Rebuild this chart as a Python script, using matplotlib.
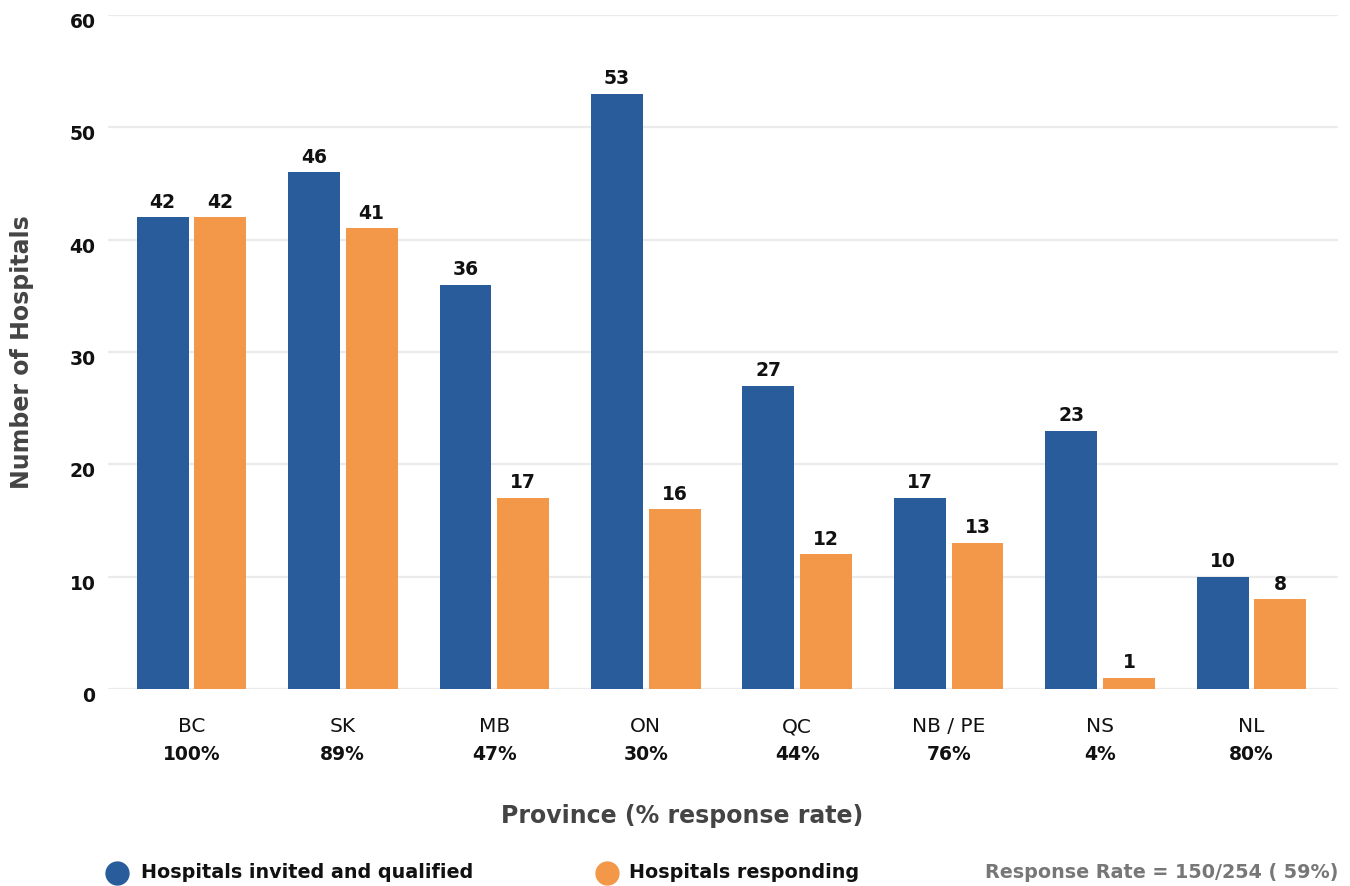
import matplotlib
matplotlib.use("Agg")
import matplotlib.pyplot as plt
import numpy as np
from matplotlib.lines import Line2D
from matplotlib.transforms import blended_transform_factory, ScaledTranslation

provinces = ["BC", "SK", "MB", "ON", "QC", "NB / PE", "NS", "NL"]
rates = ["100%", "89%", "47%", "30%", "44%", "76%", "4%", "80%"]
invited = [42, 46, 36, 53, 27, 17, 23, 10]
responding = [42, 41, 17, 16, 12, 13, 1, 8]
series_names = ["Hospitals invited and qualified", "Hospitals responding"]
yticks = [0, 10, 20, 30, 40, 50, 60]
summary = "Response Rate = 150/254 ( 59%)"

BLUE = "#285C9B"
ORANGE = "#F39849"
plt.rcParams['font.family'] = ['DejaVu Sans']

fig = plt.figure(figsize=(13.5, 8.86), dpi=100)
W, H = 1350, 886
ax = fig.add_axes([108 / W, 1 - 689 / H, (1338 - 108) / W, (689 - 15) / H])

x = np.arange(len(provinces))
bw = 0.343
off = 0.19
b1 = ax.bar(x - off, invited, bw, color=BLUE, zorder=3)
b2 = ax.bar(x + off, responding, bw, color=ORANGE, zorder=3)
for bars in (b1, b2):
    ax.bar_label(bars, padding=4, fontsize=13.5, fontweight='bold', color='#111111')

ax.set_xlim(-0.55, 7.57)
ax.set_ylim(0, 60)
ax.set_yticks(yticks)
ax.set_yticklabels([str(t) for t in yticks], fontsize=13.5, fontweight='bold', color='#111111')
ax.tick_params(axis='y', length=0, pad=9)
for lab in ax.get_yticklabels():
    lab.set_transform(lab.get_transform() + ScaledTranslation(0, -4 / 72, fig.dpi_scale_trans))
ax.tick_params(axis='x', length=0)
ax.set_xticks([])
ax.grid(axis='y', color='#ebebeb', linewidth=1.6, zorder=0)
for s in ax.spines.values():
    s.set_visible(False)

tr = blended_transform_factory(ax.transData, fig.transFigure)
for i, (p, r) in enumerate(zip(provinces, rates)):
    ax.text(i, 1 - 727 / H, p, transform=tr, ha='center', va='center', fontsize=14.5, color='#111111')
    ax.text(i, 1 - 754 / H, r, transform=tr, ha='center', va='center', fontsize=13.5, fontweight='bold', color='#111111')

fig.text(682 / W, 1 - 816 / H, "Province (% response rate)", ha='center', va='center',
         fontsize=17, fontweight='bold', color='#444444')
fig.text(22 / W, 1 - 352 / H, "Number of Hospitals", ha='center', va='center', rotation=90,
         fontsize=17, fontweight='bold', color='#444444')

# legend
ly = 1 - 873 / H
for cx, tx, col, name in [(117, 141, BLUE, series_names[0]), (607, 629, ORANGE, series_names[1])]:
    fig.add_artist(Line2D([cx / W], [ly], marker='o', markersize=16.5, color=col, linestyle='None',
                          transform=fig.transFigure))
    fig.text(tx / W, ly, name, ha='left', va='center', fontsize=13.8, fontweight='bold', color='#111111')
fig.text(1338 / W, ly, summary, ha='right', va='center', fontsize=13.8, fontweight='bold', color='#777777')

fig.savefig("out.png", dpi=100)
